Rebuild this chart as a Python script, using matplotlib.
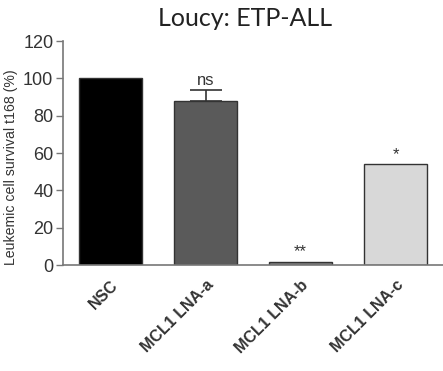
import matplotlib
matplotlib.use("Agg")
import matplotlib.pyplot as plt

categories = ["NSC", "MCL1 LNA-a", "MCL1 LNA-b", "MCL1 LNA-c"]
survival = [100.0, 88.0, 1.8, 54.0]
errors = [0.0, 5.8, 0.0, 0.0]
significance = ["", "ns", "**", "*"]
bar_colors = ["#000000", "#5a5a5a", "#7c7c7c", "#d8d8d8"]
yticks = [0, 20, 40, 60, 80, 100, 120]

plt.rcParams["font.family"] = ["Liberation Sans", "DejaVu Sans"]

fig = plt.figure(figsize=(4.43, 3.71), dpi=100)
ax = fig.add_axes([63 / 443, (371 - 265) / 371, 1 - 63 / 443, (265 - 41) / 371])

x = list(range(len(categories)))
ax.bar(x, survival, width=0.67, color=bar_colors, edgecolor="#333333", linewidth=1.0, zorder=2)

for xi, v, e in zip(x, survival, errors):
    if e > 0:
        ax.errorbar(xi, v, yerr=[[0], [e]], fmt="none", ecolor="#333333",
                    elinewidth=1.2, capsize=11.5, capthick=1.2, zorder=3)

for xi, v, e, s in zip(x, survival, errors, significance):
    if s:
        ax.text(xi, v + e + 1.2, s, ha="center", va="bottom", fontsize=12, color="#333333")

ax.set_xlim(-0.5, 3.5)
ax.set_ylim(0, 120)
ax.set_yticks(yticks)
ax.set_yticklabels([str(t) for t in yticks], fontsize=13, color="#333333")
ax.set_xticks(x)
ax.set_xticklabels(categories, rotation=45, ha="right", rotation_mode="anchor",
                   fontsize=11.5, fontweight="bold", color="#333333")
ax.tick_params(axis="y", length=5, width=1.0, color="#777777", pad=2)
ax.tick_params(axis="x", length=0, pad=9)

for side in ["top", "right"]:
    ax.spines[side].set_visible(False)
for side in ["left", "bottom"]:
    ax.spines[side].set_color("#777777")
    ax.spines[side].set_linewidth(1.2)

ax.set_ylabel("Leukemic cell survival t168 (%)", fontsize=10.2, color="#333333")
ax.yaxis.set_label_coords(-0.118, 0.435)

fig.text(245 / 443, 1 - 18 / 371, "Loucy: ETP-ALL", ha="center", va="center",
         fontsize=18, family=["Lato", "DejaVu Sans"], color="#222222")

fig.savefig("out.png", dpi=100)
